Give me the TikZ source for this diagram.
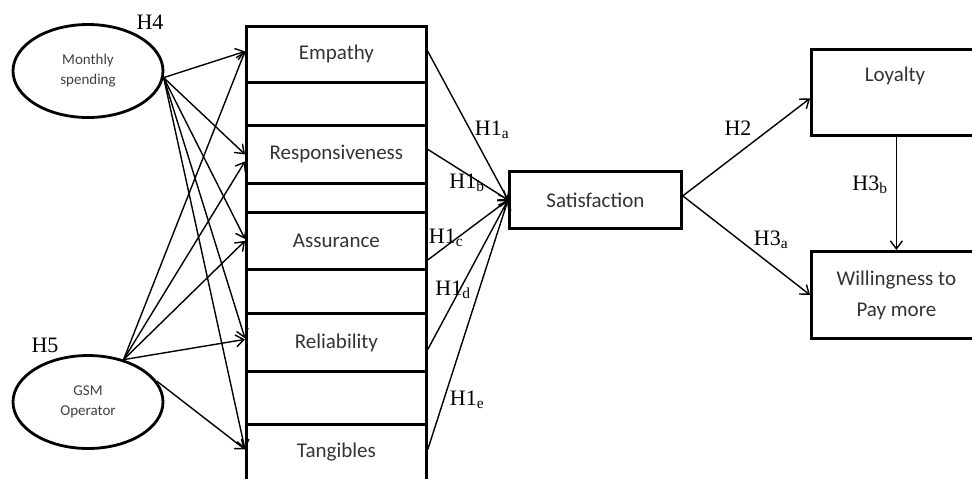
\documentclass[tikz,border=0pt]{standalone}
\usepackage{fontspec}
\setmainfont{Liberation Serif}
\newfontfamily\boxfont{Carlito}
\usetikzlibrary{arrows.meta,shapes.geometric,calc}
\begin{document}
\begin{tikzpicture}[x=1pt,y=-1pt,
  box/.style={draw, line width=2.8pt, minimum width=180pt, inner sep=0pt, anchor=north west,
    font=\boxfont\fontsize{21}{31}\selectfont, text=black!80, align=center},
  ell/.style={ellipse, draw, line width=2.8pt, minimum width=150pt, minimum height=93pt,
    inner sep=0pt, align=center, font=\boxfont\fontsize{15}{20}\selectfont, text=black!75},
  arr/.style={line width=1.4pt, -{Straight Barb[length=8pt,width=12pt]}},
  hyp/.style={font=\fontsize{22}{26}\selectfont, inner sep=0pt}]
\useasboundingbox (0,0) rectangle (972,479);
\clip (0,0) rectangle (972,479);
% ellipses
\node[ell] (ms) at (88,71) {Monthly\\spending};
\node[ell] (gsm) at (88,402) {GSM\\Operator};
% column of dimensions
\node[box, minimum height=56pt] (emp) at (245,25) {Empathy};
\node[box, minimum height=43pt] (g1) at (245,81) {};
\node[box, minimum height=58pt] (resp) at (245,124) {Responsiveness};
\node[box, minimum height=29pt] (g2) at (245,182) {};
\node[box, minimum height=57pt] (ass) at (245,211) {Assurance};
\node[box, minimum height=44pt] (g3) at (245,268) {};
\node[box, minimum height=58pt] (rel) at (245,312) {Reliability};
\node[box, minimum height=53pt] (g4) at (245,370) {};
\node[box, minimum height=56pt] (tang) at (245,423) {Tangibles};
% right side
\node[box, minimum width=172pt, minimum height=57pt] (sat) at (508,170) {Satisfaction};
\node[box, minimum width=170pt, minimum height=86pt] (loy) at (810,48) {};
\node[font=\boxfont\fontsize{21}{25}\selectfont, text=black!80, inner sep=0pt] (loyt) at (895,76) {Loyalty};
\node[box, minimum width=170pt, minimum height=87pt] (wil) at (810,250) {Willingness to\\Pay more};
% arrows from ellipses
\draw[arr] (ms.-5) -- ([yshift=3pt]emp.west);
\draw[arr] (ms.-5) -- (resp.west);
\draw[arr] (ms.-5) -- ([yshift=2pt]ass.west);
\draw[arr] (ms.-5) -- ([yshift=4pt]rel.west);
\draw[arr] (ms.-5) -- ([yshift=3pt]tang.west);
\draw[arr] (gsm.50) -- ([yshift=3pt]emp.west);
\draw[arr] (gsm.50) -- ([yshift=-7pt]resp.west);
\draw[arr] (gsm.50) -- (ass.west);
\draw[arr] (gsm.50) -- ([yshift=3pt]rel.west);
\draw[arr] (gsm.17) -- ([yshift=3pt]tang.west);
% H1 arrows
\draw[arr] ([yshift=3pt]emp.east) -- (sat.west);
\draw[arr] ([yshift=5pt]resp.east) -- (sat.west);
\draw[arr] ([yshift=-19pt]ass.east) -- (sat.west);
\draw[arr] ([yshift=-7pt]rel.east) -- (sat.west);
\draw[arr] ([yshift=3pt]tang.east) -- (sat.west);
% outcomes
\draw[arr] ([yshift=4pt]sat.east) -- ([yshift=-6pt]loy.west);
\draw[arr] ([yshift=4pt]sat.east) -- (wil.west);
\draw[arr] (loy.south) -- (wil.north);
% labels
\node[hyp] (h4) at (150,22) {H4};
\node[hyp] (h5) at (45,345) {H5};
\node[hyp] (h1a) at (492,130) {H1\textsubscript{a}};
\node[hyp] (h1b) at (467,183) {H1\textsubscript{b}};
\node[hyp] (h1c) at (446,238) {H1\textsubscript{c}};
\node[hyp] (h1d) at (453,290) {H1\textsubscript{d}};
\node[hyp] (h1e) at (467,400) {H1\textsubscript{e}};
\node[hyp] (h2) at (738,128) {H2};
\node[hyp] (h3a) at (771,240) {H3\textsubscript{a}};
\node[hyp] (h3b) at (870,185) {H3\textsubscript{b}};
\end{tikzpicture}
\end{document}
